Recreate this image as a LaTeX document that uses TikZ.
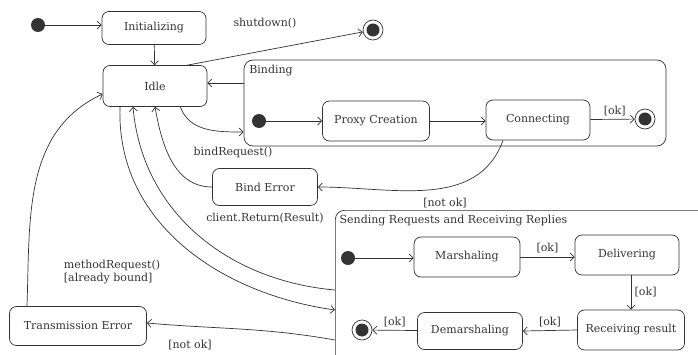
\documentclass[tikz,border=0pt]{standalone}
\usepackage{fontspec}
\setmainfont{DejaVu Serif}
\usetikzlibrary{arrows.meta}

\begin{document}
\begin{tikzpicture}[x=1pt,y=1pt,color=black!80,line width=0.7pt,
    >={Straight Barb[length=4pt,width=8pt]},
    every node/.style={font=\fontsize{11}{13}\selectfont},
    state/.style={draw,rounded corners=7pt,minimum width=104pt,minimum height=40pt,inner sep=1pt},
    dot/.style={circle,fill,inner sep=0pt,minimum size=14pt},
    enddot/.style={circle,draw,inner sep=0pt,minimum size=20pt,
      path picture={\fill (path picture bounding box.center) circle (6.5pt);}},
    region/.style={draw,rounded corners=9pt,inner sep=0pt}]
  \useasboundingbox (0,0) rectangle (698,354);
  \clip (0,0) rectangle (698,354);
  % top level
  \node[dot] (start) at (38,329) {};
  \node[state,minimum height=33pt] (ini) at (154,326) {Initializing};
  \node[state,minimum height=41pt] (idle) at (155,268) {Idle};
  \node[enddot] (fin) at (373,324) {};
  \node (shut) at (265,331) {shutdown()};
  \draw[->] (start) -- (start -| ini.west);
  \draw[->] (ini) -- (idle);
  \draw[->] ([xshift=-20pt]idle.north east) -- (fin);
  % binding
  \node[region,minimum width=422pt,minimum height=86pt] (bind) at (455,251) {};
  \node[anchor=north west] (bindlbl) at ([xshift=2pt,yshift=-2pt]bind.north west) {Binding};
  \node[dot] (bstart) at (259,233) {};
  \node[state,minimum width=107pt] (proxy) at (376,233) {Proxy Creation};
  \node[state] (conn) at (538,234) {Connecting};
  \node[enddot] (bfin) at (645,235) {};
  \draw[->] (bstart) -- (bstart -| proxy.west);
  \draw[->] (proxy) -- (proxy -| conn.west);
  \draw[->] (conn) -- node[pos=.55,above] {[ok]} (bfin);
  \draw[->] (bind.west |- 0,271) -- ([yshift=3pt]idle.east);
  \draw[->] ([xshift=-27pt]idle.south east) to[out=-70,in=180] ([yshift=-29pt]bind.west);
  \node (breq) at (233,202) {bindRequest()};
  \node[state,minimum width=105pt,minimum height=37pt] (berr) at (265,167) {Bind Error};
  \draw[->] ([xshift=-35pt]conn.south) to[out=-110,in=0] (berr.east);
  \node (nok1) at (445,151) {[not ok]};
  \draw[->] (berr.west) to[out=180,in=-80] (idle.south);
  \node (cret) at (265,136) {client.Return(Result)};
  % sending
  \node[region,minimum width=380pt,minimum height=160pt,anchor=north west] (send) at (335,144) {};
  \node[anchor=north west] (sendlbl) at ([xshift=1pt,yshift=-1pt]send.north west) {Sending Requests and Receiving Replies};
  \node[dot] (sstart) at (348,96) {};
  \node[state,minimum width=106pt] (marsh) at (467,97) {Marshaling};
  \node[state] (deliv) at (627,99) {Delivering};
  \node[state,minimum width=107pt] (recv) at (631,24) {Receiving result};
  \node[state,minimum width=105pt,minimum height=37pt] (demar) at (470,23) {Demarshaling};
  \node[enddot] (sfin) at (362,24) {};
  \draw[->] (sstart) -- (sstart -| marsh.west);
  \draw[->] (marsh.east) -- node[above] {[ok]} (marsh.east -| deliv.west);
  \draw[->] (recv.north |- deliv.south) -- node[right] {[ok]} (recv.north);
  \draw[->] (recv.west) -- node[above] {[ok]} (demar.east);
  \draw[->] (demar) -- node[above] {[ok]} (sfin);
  \coordinate (sret) at (335,64);
  \coordinate (sreq) at (335,44);
  \coordinate (serr) at (335,14);
  \draw[->] (sret) to[out=175,in=-85] ([xshift=-22pt]idle.south);
  \draw[->] ([xshift=-35pt]idle.south) to[out=-92,in=172] (sreq);
  \node[align=left] (mreq) at (112,82) {methodRequest()\\{[already bound]}};
  % errors
  \node[state,minimum width=137pt,minimum height=39pt] (trans) at (78,28) {Transmission Error};
  \draw[->] ([xshift=-51pt]trans.north) to[out=88,in=205] ([yshift=-8pt]idle.west);
  \draw[->] (serr) to[out=170,in=-5] ([yshift=3pt]trans.east);
  \node (nok2) at (190,9) {[not ok]};
\end{tikzpicture}
\end{document}
